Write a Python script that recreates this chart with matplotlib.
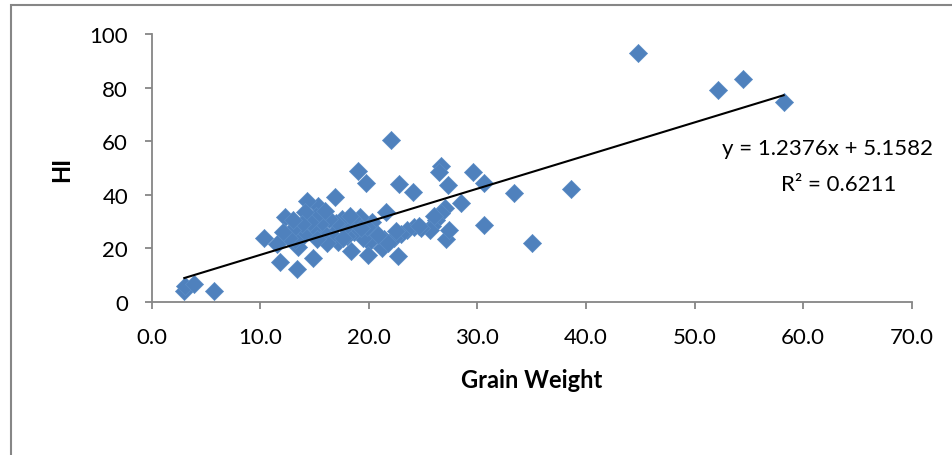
import numpy as np
import matplotlib.pyplot as plt
from matplotlib.patches import Rectangle

# grain weight vs harvest index
grain_weight = [3.0, 3.1, 3.9, 5.7,
                44.8, 52.2, 54.5, 58.2, 38.6, 35.0, 33.4, 30.6, 30.6, 29.6,
                28.5, 27.3, 26.6, 26.5, 27.1, 27.4, 27.0, 26.6, 26.2, 25.8,
                26.0, 25.6, 24.8, 24.1, 24.2, 23.5, 22.8, 22.0, 22.7, 23.0,
                22.3, 21.6, 21.2, 21.4, 21.8, 20.6, 20.3, 20.0, 19.9, 19.7,
                19.0, 18.4, 19.5, 19.8, 19.2, 18.8, 18.6, 18.0, 17.8, 17.5,
                17.2, 17.0, 16.9, 16.6, 16.3, 16.1, 15.8, 15.5, 15.3, 15.1,
                14.9, 14.8, 14.6, 14.3, 14.1, 14.0, 13.8, 13.5, 13.4, 13.2,
                12.9, 12.6, 12.3, 12.1, 11.8, 11.5, 10.3, 18.3, 20.8, 16.0,
                17.6, 15.2, 13.0, 19.3, 24.6, 22.5]
hi = [4.2, 6.0, 6.8, 4.1,
      93.0, 79.0, 83.2, 74.6, 42.0, 21.9, 40.6, 28.7, 44.3, 48.6,
      36.8, 43.8, 50.6, 48.5, 23.4, 27.0, 35.0, 33.0, 30.5, 28.5,
      32.0, 27.0, 27.5, 40.9, 28.0, 27.0, 44.0, 60.4, 17.1, 25.5,
      24.0, 33.5, 20.0, 23.5, 22.0, 26.0, 30.0, 22.5, 17.5, 44.3,
      48.9, 19.0, 24.0, 28.0, 31.5, 30.0, 26.0, 24.5, 28.0, 31.0,
      22.5, 29.5, 39.2, 25.0, 31.0, 22.0, 26.0, 29.0, 35.9, 32.0,
      16.2, 27.0, 30.0, 37.8, 33.5, 25.0, 29.0, 20.5, 12.3, 23.0,
      27.0, 24.0, 31.8, 26.0, 15.0, 21.5, 24.0, 32.0, 25.0, 34.0,
      24.0, 23.5, 30.5, 27.5, 28.5, 26.5]

slope = 1.2376
intercept = 5.1582
r2 = 0.6211

plt.rcParams['font.family'] = ['Lato', 'DejaVu Sans']

fig = plt.figure(figsize=(9.53, 4.56), dpi=100)
ax = fig.add_axes([0.1592, 0.336, 0.7975, 0.5868])

# chart frame
fig.patches.append(Rectangle((11 / 953, -0.1), 1.2, 1 - 6 / 456 + 0.1,
                             transform=fig.transFigure, fill=False,
                             edgecolor='#868686', linewidth=1.5))

ax.scatter(grain_weight, hi, marker='D', s=85, color='#4F81BD',
           edgecolors='#5B8CC6', linewidths=0.5, zorder=2)

xs = np.array([min(grain_weight), max(grain_weight)])
ax.plot(xs, slope * xs + intercept, color='black', linewidth=1.5, zorder=3)

ax.set_xlim(0, 70)
ax.set_ylim(0, 100)
ax.set_xticks(np.arange(0, 71, 10))
ax.set_xticklabels([f'{v:.1f}' for v in np.arange(0, 71, 10)])
ax.set_yticks(np.arange(0, 101, 20))

for s in ['top', 'right']:
    ax.spines[s].set_visible(False)
for s in ['left', 'bottom']:
    ax.spines[s].set_color('#868686')
    ax.spines[s].set_linewidth(1.3)
ax.tick_params(direction='out', length=5, width=1.3, color='#868686',
               labelsize=16)
ax.tick_params(axis='x', pad=13)
ax.tick_params(axis='y', pad=12)

ax.set_xlabel('Grain Weight', fontsize=17, fontweight='bold', labelpad=15)
ax.set_ylabel('HI', fontsize=17, fontweight='bold', labelpad=12)

ax.text(62.2, 57.3, f'y = {slope}x + {intercept}', fontsize=16, ha='center', va='center')
ax.text(63.3, 44.2, f'R² = {r2}', fontsize=16, ha='center', va='center')

fig.savefig('out.png', dpi=100)
